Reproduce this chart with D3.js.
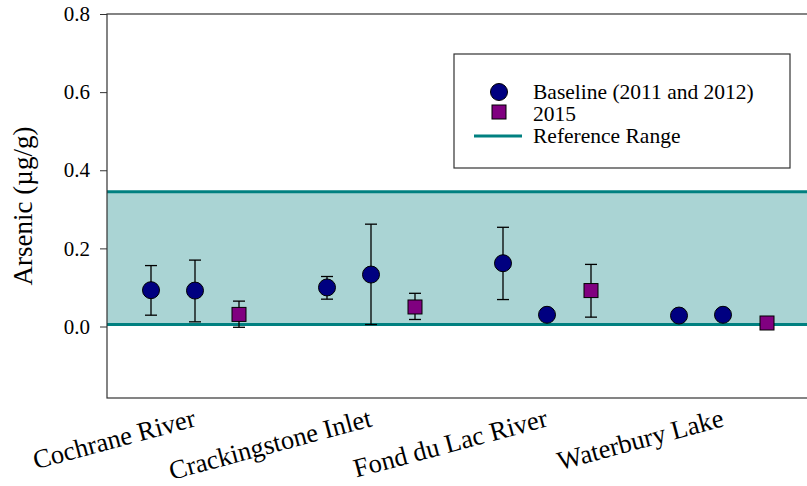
<!DOCTYPE html>
<html><head><meta charset="utf-8">
<script src="https://cdn.jsdelivr.net/npm/d3@7"></script>
<style>body{margin:0;background:#fff}svg{display:block}svg text{font-family:"Liberation Serif","Tinos","Times New Roman","DejaVu Serif",serif !important}</style>
</head><body>
<script>
const categories = ["Cochrane River","Crackingstone Inlet","Fond du Lac River","Waterbury Lake"];
// Baseline (2011 and 2012): two sites per category
const baselineCat = [0,0,1,1,2,2,3,3];
const baselineRep = [0,1,0,1,0,1,0,1];
const baselineMean = [0.093,0.092,0.100,0.133,0.162,0.030,0.028,0.030];
const baselineLo   = [0.029,0.012,0.070,0.005,0.069,null,null,null];
const baselineHi   = [0.156,0.170,0.128,0.262,0.254,null,null,null];
// 2015
const y2015Cat  = [0,1,2,3];
const y2015Mean = [0.031,0.050,0.092,0.009];
const y2015Lo   = [-0.002,0.018,0.024,null];
const y2015Hi   = [0.065,0.085,0.159,null];
// Reference range
const refRange = [0.005,0.345];
const yTicks = [0.0,0.2,0.4,0.6,0.8];
const yDomain = [-0.183,0.8];

const W=807,H=486;
const svg=d3.select("body").append("svg").attr("width",W).attr("height",H).attr("font-family","Liberation Serif");
const L=107,R=811,T=14,B=398;
const slot=(c,r)=>c*4+r;
const x=d3.scaleLinear().domain([-1,15]).range([L,R]);
const y=d3.scaleLinear().domain(yDomain).range([B,T]);

// reference band
svg.append("rect").attr("x",L).attr("width",R-L).attr("y",y(refRange[1])).attr("height",y(refRange[0])-y(refRange[1])).attr("fill","#aad4d4");
refRange.forEach(v=>svg.append("line").attr("x1",L).attr("x2",R).attr("y1",y(v)).attr("y2",y(v)).attr("stroke","#008080").attr("stroke-width",3));

// frame
svg.append("rect").attr("x",L).attr("y",T).attr("width",R-L).attr("height",B-T).attr("fill","none").attr("stroke","#333").attr("stroke-width",1.2);

// y axis
const ya=svg.append("g").attr("transform",`translate(${L},0)`).call(d3.axisLeft(y).tickValues(yTicks).tickFormat(d3.format(".1f")).tickSize(7).tickPadding(10));
ya.attr("font-family",null);
ya.select(".domain").remove();
ya.selectAll("line").attr("stroke","#333");
ya.selectAll("text").attr("font-size",21).attr("fill","#000");

svg.append("text").attr("transform",`translate(32,${(T+B)/2}) rotate(-90)`).attr("text-anchor","middle").attr("font-size",27).text("Arsenic (\u00b5g/g)");

// category labels
categories.forEach((c,i)=>{
  svg.append("text").attr("transform",`translate(${x(slot(i,1))+2},${B+28}) rotate(-15)`).attr("text-anchor","end").attr("font-size",26.5).text(c);
});

function errBars(xs,lo,hi){
  xs.forEach((xv,i)=>{
    if(lo[i]==null) return;
    const g=svg.append("g").attr("stroke","#000").attr("stroke-width",1.3);
    g.append("line").attr("x1",xv).attr("x2",xv).attr("y1",y(lo[i])).attr("y2",y(hi[i]));
    [lo[i],hi[i]].forEach(v=>g.append("line").attr("x1",xv-6).attr("x2",xv+6).attr("y1",y(v)).attr("y2",y(v)));
  });
}
const bx=baselineCat.map((c,i)=>x(slot(c,baselineRep[i])));
const sx=y2015Cat.map(c=>x(slot(c,2)));
errBars(bx,baselineLo,baselineHi);
errBars(sx,y2015Lo,y2015Hi);
svg.selectAll(".bc").data(baselineMean).enter().append("circle").attr("cx",(d,i)=>bx[i]).attr("cy",d=>y(d)).attr("r",8.5).attr("fill","#000080").attr("stroke","#000").attr("stroke-width",1);
svg.selectAll(".sq").data(y2015Mean).enter().append("rect").attr("x",(d,i)=>sx[i]-7).attr("y",d=>y(d)-7).attr("width",14).attr("height",14).attr("fill","#800080").attr("stroke","#000").attr("stroke-width",1);

// legend
const lg=svg.append("g");
lg.append("rect").attr("x",454).attr("y",54).attr("width",336).attr("height",114).attr("fill","#fff").attr("stroke","#333").attr("stroke-width",1.2);
lg.append("circle").attr("cx",499).attr("cy",92).attr("r",8.5).attr("fill","#000080").attr("stroke","#000");
lg.append("rect").attr("x",492).attr("y",105).attr("width",14).attr("height",14).attr("fill","#800080").attr("stroke","#000");
lg.append("line").attr("x1",474).attr("x2",522).attr("y1",136).attr("y2",136).attr("stroke","#008080").attr("stroke-width",3);
const legTexts=["Baseline (2011 and 2012)","2015","Reference Range"];
legTexts.forEach((t,i)=>lg.append("text").attr("x",533).attr("y",99+i*22).attr("font-size",21.5).text(t));
</script>
</body></html>
